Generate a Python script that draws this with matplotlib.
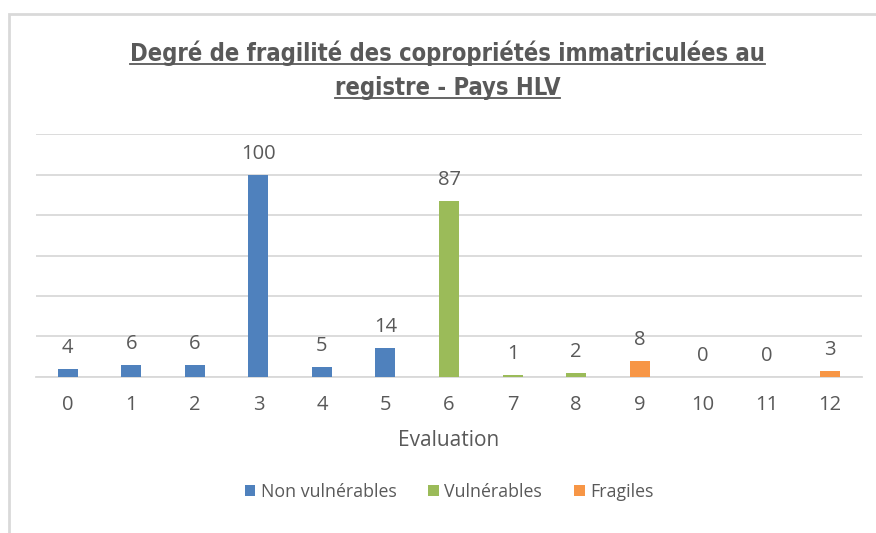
import matplotlib
matplotlib.use("Agg")
import matplotlib.pyplot as plt
from matplotlib.lines import Line2D
from matplotlib.patches import Rectangle

categories = [0, 1, 2, 3, 4, 5, 6, 7, 8, 9, 10, 11, 12]
values = [4, 6, 6, 100, 5, 14, 87, 1, 2, 8, 0, 0, 3]
groups = ["Non vulnérables"] * 6 + ["Vulnérables"] * 3 + ["Fragiles"] * 4
series_names = ["Non vulnérables", "Vulnérables", "Fragiles"]
series_colors = {"Non vulnérables": "#4F81BD", "Vulnérables": "#9BBB59", "Fragiles": "#F79646"}
title_lines = ["Degré de fragilité des copropriétés immatriculées au", "registre - Pays HLV"]
x_label = "Evaluation"

W, H = 876, 533
fig = plt.figure(figsize=(W / 100, H / 100), dpi=100)
fig.patch.set_facecolor("white")

# outer border
fig.add_artist(Rectangle((9 / W, -0.01), 1.0, 1 - 14 / H + 0.01, transform=fig.transFigure,
                         fill=False, edgecolor="#D9D9D9", linewidth=2))

ax = fig.add_axes([36 / W, 1 - 376.7 / H, (862 - 36) / W, (376.7 - 134.3) / H])
text_color = "#595959"
font = "Open Sans"

for name in series_names:
    xs = [c for c, g in zip(categories, groups) if g == name]
    ys = [v for v, g in zip(values, groups) if g == name]
    ax.bar(xs, ys, width=0.315, color=series_colors[name], label=name, zorder=3)

for c, v in zip(categories, values):
    ax.annotate(str(v), (c, v), xytext=(0, 11.5), textcoords="offset points",
                ha="center", va="baseline", fontsize=14.5, color=text_color, family=font, zorder=4)

ax.set_xlim(-0.5, 12.5)
ax.set_ylim(0, 120)
ax.set_yticks(range(0, 121, 20))
ax.yaxis.grid(True, color="#D9D9D9", linewidth=1.3, zorder=0)
ax.set_yticklabels([])
ax.tick_params(axis="y", length=0)
ax.set_xticks(categories)
ax.set_xticklabels([str(c) for c in categories], fontsize=14.5, color=text_color, family=font)
ax.tick_params(axis="x", length=0, pad=13)
for s in ["top", "right", "left"]:
    ax.spines[s].set_visible(False)
ax.spines["bottom"].set_color("#D9D9D9")
ax.spines["bottom"].set_linewidth(1.3)
ax.set_axisbelow(True)
ax.set_xlabel(x_label, fontsize=15, color=text_color, family=font, labelpad=11)

leg = fig.legend(loc="center", bbox_to_anchor=(449 / W, 1 - 492 / H), ncol=3, frameon=False,
                 prop={"family": font, "size": 12.8}, handlelength=0.6, handleheight=0.6,
                 handletextpad=0.3, columnspacing=1.8)
for t in leg.get_texts():
    t.set_color(text_color)

# title with underline
title_y = [53, 88]
texts = []
for line, y in zip(title_lines, title_y):
    t = fig.text(447.5 / W, 1 - y / H, line, ha="center", va="center", fontsize=17,
                 fontweight="bold", color=text_color, family="DejaVu Sans", fontstretch="condensed")
    texts.append(t)
fig.canvas.draw()
r = fig.canvas.get_renderer()
# scale title font so first line spans the same width as the reference
w0 = texts[0].get_window_extent(r).width
scale = 635.0 / w0
for t in texts:
    t.set_fontsize(17 * scale)
fig.canvas.draw()
for t in texts:
    bb = t.get_window_extent(r)
    yy = bb.y0 + 2
    fig.add_artist(Line2D([bb.x0 / W, bb.x1 / W], [yy / H, yy / H], transform=fig.transFigure,
                          color=text_color, linewidth=1.3))

fig.savefig("out.png", dpi=100)
